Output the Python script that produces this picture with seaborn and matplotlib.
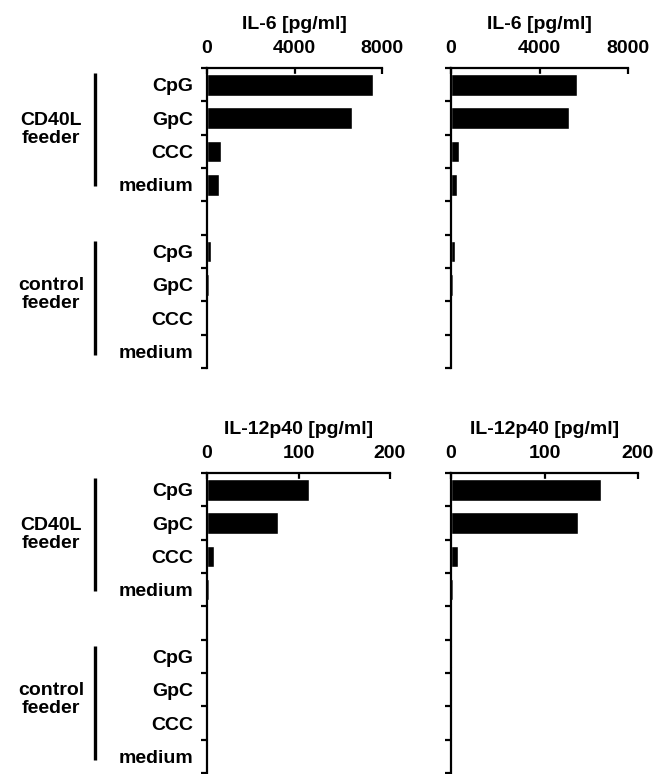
"""
IL-6 and IL-12p40 secretion, two donors, CD40L vs control feeder
"""

import pandas as pd
import seaborn as sns
import matplotlib.pyplot as plt
import matplotlib.transforms as mtransforms

# slot keys (one blank slot separates the feeder groups)
slots = ["cd40l_cpg", "cd40l_gpc", "cd40l_ccc", "cd40l_medium", "gap",
         "ctrl_cpg", "ctrl_gpc", "ctrl_ccc", "ctrl_medium"]
slot_labels = ["CpG", "GpC", "CCC", "medium", "",
               "CpG", "GpC", "CCC", "medium"]
bar_slots = [s for s in slots if s != "gap"]

# values
il6_left = [7580, 6610, 640, 560, 180, 100, 0, 0]
il6_right = [5680, 5330, 360, 270, 170, 90, 0, 0]
il12_left = [112, 78, 8, 2, 1.5, 1.5, 1.5, 1.5]
il12_right = [160, 136, 7, 2, 1.5, 1.5, 1.5, 1.5]

il6_ticks = [0, 4000, 8000]
il12_ticks = [0, 100, 200]
il6_title = "IL-6 [pg/ml]"
il12_title = "IL-12p40 [pg/ml]"

W, H = 663, 774
FS = 14
sns.set_theme(style="white")
plt.rcParams["font.family"] = ["Liberation Sans", "DejaVu Sans"]
plt.rcParams["font.weight"] = "bold"
plt.rcParams["text.color"] = "black"
plt.rcParams["axes.labelcolor"] = "black"
plt.rcParams["xtick.color"] = "black"
plt.rcParams["ytick.color"] = "black"

fig = plt.figure(figsize=(W / 100, H / 100), dpi=100)


def px_axes(x0, x1, y0, y1):
    # axes from pixel box (top-left origin)
    return fig.add_axes([x0 / W, 1 - y1 / H, (x1 - x0) / W, (y1 - y0) / H])


panels = [
    (px_axes(207, 382, 68, 368), il6_left, il6_ticks, il6_title, True),
    (px_axes(451, 628, 68, 368), il6_right, il6_ticks, il6_title, False),
    (px_axes(207, 390, 473, 773), il12_left, il12_ticks, il12_title, True),
    (px_axes(451, 638, 473, 773), il12_right, il12_ticks, il12_title, False),
]

for ax, vals, ticks, title, show_labels in panels:
    df = pd.DataFrame({"slot": bar_slots, "value": vals})
    sns.barplot(data=df, y="slot", x="value", order=slots, orient="h",
                color="black", width=0.65, saturation=1, ax=ax)
    ax.set_ylim(len(slots) - 0.5, -0.5)
    ax.set_xlim(0, ticks[-1])

    for side in ["bottom", "right"]:
        ax.spines[side].set_visible(False)
    for side in ["left", "top"]:
        ax.spines[side].set_linewidth(1.6)
        ax.spines[side].set_color("black")

    # x axis on top
    ax.xaxis.tick_top()
    ax.xaxis.set_label_position("top")
    ax.set_xticks(ticks)
    ax.set_xticklabels([str(t) for t in ticks], fontsize=FS, fontweight="bold")
    ax.tick_params(axis="x", direction="in", length=4, width=1.6, pad=8,
                   top=True, bottom=False)
    ax.set_xlabel(title, fontsize=FS, fontweight="bold", labelpad=8)

    # y: labels at slot centres, ticks at slot edges
    ax.set_yticks(range(len(slots)))
    ax.set_yticks([i - 0.5 for i in range(len(slots) + 1)], minor=True)
    ax.tick_params(axis="y", which="major", length=0, pad=10)
    ax.tick_params(axis="y", which="minor", direction="out", length=4,
                   width=1.6, left=True)
    if show_labels:
        ax.set_yticklabels(slot_labels, fontsize=FS, fontweight="bold")
    else:
        ax.set_yticklabels([])
    ax.set_ylabel("")

    if show_labels:
        trans = mtransforms.blended_transform_factory(fig.transFigure, ax.transData)
        for (y0, y1), yc, name in [((-0.35, 3.05), 1.35, "CD40L\nfeeder"),
                                   ((4.68, 8.1), 6.3, "control\nfeeder")]:
            ax.plot([95 / W, 95 / W], [y0, y1], color="black", lw=2.4,
                    transform=trans, clip_on=False, solid_capstyle="butt")
            ax.text(51 / W, yc, name, transform=trans, ha="center",
                    va="center", fontsize=FS, fontweight="bold",
                    linespacing=1.1)

fig.savefig("out.png", dpi=100)
